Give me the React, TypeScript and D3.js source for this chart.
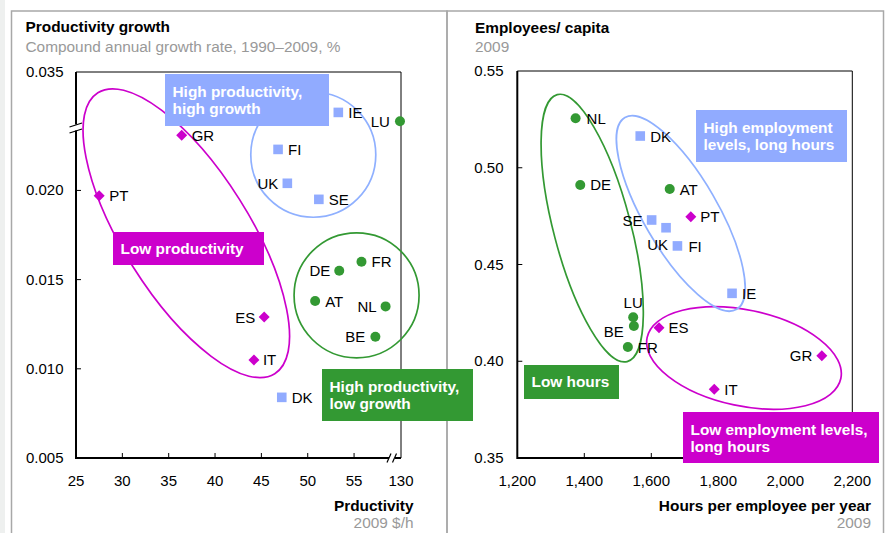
import React from "react";
import * as d3 from "d3";

// ---------- data ----------
type Pt = { c: string; x: number; y: number; g: "low" | "hi" | "mid" };

// Left chart: productivity (2009 $/h) vs productivity growth
const leftPoints: Pt[] = [
  { c: "GR", x: 36.4, y: 0.0231, g: "low" },
  { c: "PT", x: 27.5, y: 0.0197, g: "low" },
  { c: "ES", x: 45.3, y: 0.0129, g: "low" },
  { c: "IT", x: 44.2, y: 0.0105, g: "low" },
  { c: "IE", x: 53.3, y: 0.0267, g: "hi" },
  { c: "FI", x: 46.8, y: 0.0223, g: "hi" },
  { c: "UK", x: 47.8, y: 0.0204, g: "hi" },
  { c: "SE", x: 51.2, y: 0.0195, g: "hi" },
  { c: "DK", x: 47.2, y: 0.0084, g: "hi" },
  { c: "LU", x: 121, y: 0.0249, g: "mid" },
  { c: "FR", x: 55.8, y: 0.016, g: "mid" },
  { c: "DE", x: 53.4, y: 0.0155, g: "mid" },
  { c: "AT", x: 50.8, y: 0.0138, g: "mid" },
  { c: "NL", x: 58.4, y: 0.0135, g: "mid" },
  { c: "BE", x: 57.3, y: 0.0118, g: "mid" },
];

// Right chart: hours per employee vs employees per capita
const rightPoints: Pt[] = [
  { c: "NL", x: 1374, y: 0.5256, g: "mid" },
  { c: "DE", x: 1388, y: 0.4911, g: "mid" },
  { c: "AT", x: 1655, y: 0.489, g: "mid" },
  { c: "LU", x: 1546, y: 0.4227, g: "mid" },
  { c: "BE", x: 1548, y: 0.4182, g: "mid" },
  { c: "FR", x: 1530, y: 0.4074, g: "mid" },
  { c: "DK", x: 1567, y: 0.5164, g: "hi" },
  { c: "SE", x: 1601, y: 0.473, g: "hi" },
  { c: "UK", x: 1644, y: 0.469, g: "hi" },
  { c: "FI", x: 1678, y: 0.4596, g: "hi" },
  { c: "IE", x: 1841, y: 0.4351, g: "hi" },
  { c: "PT", x: 1718, y: 0.4747, g: "low" },
  { c: "ES", x: 1623, y: 0.4173, g: "low" },
  { c: "GR", x: 2109, y: 0.4029, g: "low" },
  { c: "IT", x: 1788, y: 0.3855, g: "low" },
];

const leftXTicks = [25, 30, 35, 40, 45, 50, 55, 130];
const leftYTicks = [0.005, 0.01, 0.015, 0.02, 0.035];
const rightXTicks = [1200, 1400, 1600, 1800, 2000, 2200];
const rightYTicks = [0.35, 0.4, 0.45, 0.5, 0.55];

// ---------- styles ----------
const MAG = "#cc00cc";
const BLUE = "#91abff";
const GREEN = "#339933";
const GRAY = "#999999";
const FONT = "'Liberation Sans', Arial, sans-serif";
const FS = 15;
const FSB = 15.4;
const colorOf = (g: string) => (g === "low" ? MAG : g === "hi" ? BLUE : GREEN);

// label placement per country: [anchor, dx, dy]
const leftLabelPos: Record<string, [string, number, number]> = {
  GR: ["start", 10, 5.5], PT: ["start", 10, 5.5], ES: ["end", -9, 5.5], IT: ["start", 9, 5.5],
  IE: ["start", 10, 5.5], FI: ["start", 10, 5.5], UK: ["end", -9, 5.5], SE: ["start", 10, 5.5],
  DK: ["start", 10, 5.5], LU: ["end", -10, 5.5], FR: ["start", 10, 5.5], DE: ["end", -9, 5.5],
  AT: ["start", 10, 5.5], NL: ["end", -9, 5.5], BE: ["end", -10, 5.5],
};
const rightLabelPos: Record<string, [string, number, number]> = {
  NL: ["start", 11, 5.5], DE: ["start", 10, 5.5], AT: ["start", 10, 5.5], LU: ["middle", 0, -9],
  BE: ["end", -10, 11], FR: ["start", 10, 6.5], DK: ["start", 10, 5.5], SE: ["end", -9, 6.5],
  UK: ["end", 2, 22], FI: ["start", 11, 6], IE: ["start", 10, 5.5], PT: ["start", 9.5, 5.5],
  ES: ["start", 9.5, 5.5], GR: ["end", -9.5, 5.5], IT: ["start", 10, 5.5],
};

function Marker({ g, x, y }: { g: string; x: number; y: number }) {
  const col = colorOf(g);
  if (g === "low") {
    const r = 5.5;
    return <path d={`M${x},${y - r}L${x + r},${y}L${x},${y + r}L${x - r},${y}Z`} fill={col} />;
  }
  if (g === "hi") return <rect x={x - 4.8} y={y - 4.8} width={9.6} height={9.6} fill={col} />;
  return <circle cx={x} cy={y} r={5} fill={col} />;
}

function Box({ x, y, w, h, fill, lines }: { x: number; y: number; w: number; h: number; fill: string; lines: string[] }) {
  return (
    <g>
      <rect x={x} y={y} width={w} height={h} fill={fill} />
      {lines.map((l, i) => (
        <text key={i} x={x + 7.5} y={y + (lines.length === 1 ? 22 : 22.5 + i * 17.5)} fill="#fff" fontWeight="bold" fontSize={FSB}>
          {l}
        </text>
      ))}
    </g>
  );
}

export default function App() {
  // left scales (broken axes)
  const lx = d3.scaleLinear().domain([25, 59.2, 130]).range([76, 393, 401]);
  const ly = d3.scaleLinear().domain([0.005, 0.0235, 0.035]).range([458, 128, 72]);
  // right scales
  const rx = d3.scaleLinear().domain([1200, 2200]).range([517.3, 852.3]);
  const ry = d3.scaleLinear().domain([0.35, 0.55]).range([458, 71]);

  const fmt3 = d3.format(".3f");
  const fmt2 = d3.format(".2f");
  const fmtC = d3.format(",");

  const L = { x0: lx(25), x1: lx(130), y0: ly(0.005), y1: ly(0.035) };
  const R = { x0: rx(1200), x1: rx(2200), y0: ry(0.35), y1: ry(0.55) };

  // ellipse annotations: centre in data units, radii in px, angle in degrees
  const leftEllipses = [
    { cx: 36.9, cy: 0.0176, a: 166, b: 63, ang: 57.8, col: MAG },
    { cx: 50.6, cy: 0.022, a: 62.5, b: 62.5, ang: 0, col: "#8fb0ff" },
    { cx: 55.27, cy: 0.01412, a: 62.5, b: 62.5, ang: 0, col: GREEN },
  ];
  const rightEllipses = [
    { cx: 1876.7, cy: 0.4017, a: 99, b: 48, ang: 12, col: MAG },
    { cx: 1688, cy: 0.4764, a: 111, b: 37, ang: 59.8, col: "#8fb0ff" },
    { cx: 1423.6, cy: 0.4688, a: 138, b: 38.5, ang: 75.3, col: GREEN },
  ];

  return (
    <div style={{ position: "fixed", left: 0, top: 0 }}>
      <svg width={887} height={533} style={{ display: "block", fontFamily: FONT }}>
        <rect x={0} y={0} width={887} height={533} fill="#fff" />
        <rect x={0} y={0} width={5} height={533} fill="#eef0ef" />
        {/* panel frames */}
        <rect x={11.5} y={11} width={435.5} height={540} fill="none" stroke="#a8a8a8" strokeWidth={1.5} />
        <rect x={447} y={11} width={436.5} height={540} fill="none" stroke="#a8a8a8" strokeWidth={1.5} />

        {/* ===== LEFT PANEL ===== */}
        <text x={25.5} y={32} fontSize={FSB} fontWeight="bold">Productivity growth</text>
        <text x={25.5} y={51.5} fontSize={FSB} fill={GRAY}>Compound annual growth rate, 1990–2009, %</text>

        {/* plot frame */}
        <line x1={L.x0} x2={L.x1} y1={L.y1} y2={L.y1} stroke="#000" strokeWidth={1} />
        <line x1={L.x1} x2={L.x1} y1={L.y1} y2={L.y0} stroke="#000" strokeWidth={1} />
        <line x1={L.x0} x2={L.x0} y1={L.y1} y2={L.y0 + 1} stroke="#000" strokeWidth={2} />
        <line x1={L.x0} x2={L.x1} y1={L.y0} y2={L.y0} stroke="#000" strokeWidth={2} />
        {leftYTicks.map((t) => (
          <g key={t}>
            {t !== 0.005 && t !== 0.035 && <line x1={L.x0} x2={L.x0 + 5} y1={ly(t)} y2={ly(t)} stroke="#000" />}
            <text x={63.5} y={ly(t) + 5} fontSize={FS} textAnchor="end">{fmt3(t)}</text>
          </g>
        ))}
        {leftXTicks.map((t) => (
          <g key={t}>
            {t !== 25 && t !== 130 && <line x1={lx(t)} x2={lx(t)} y1={L.y0} y2={L.y0 - 5} stroke="#000" />}
            <text x={lx(t)} y={486} fontSize={FS} textAnchor="middle">{t}</text>
          </g>
        ))}
        {/* axis breaks */}
        <rect x={L.x0 - 2} y={ly(0.0235) - 3.5} width={4} height={6} fill="#fff" />
        <line x1={69.5} x2={82} y1={ly(0.0235) - 1} y2={ly(0.0235) - 5} stroke="#000" strokeWidth={1.2} />
        <line x1={69.5} x2={82} y1={ly(0.0235) + 5} y2={ly(0.0235) + 1} stroke="#000" strokeWidth={1.2} />
        <rect x={lx(59.2) - 4} y={L.y0 - 2} width={6} height={4} fill="#fff" />
        <line x1={lx(59.2) - 6} x2={lx(59.2) - 2} y1={L.y0 + 4.5} y2={L.y0 - 4.5} stroke="#000" strokeWidth={1.2} />
        <line x1={lx(59.2) - 0.5} x2={lx(59.2) + 3.5} y1={L.y0 + 4.5} y2={L.y0 - 4.5} stroke="#000" strokeWidth={1.2} />

        <text x={413.5} y={511} fontSize={FSB} fontWeight="bold" textAnchor="end">Prductivity</text>
        <text x={413.5} y={527.5} fontSize={FSB} fill={GRAY} textAnchor="end">2009 $/h</text>

        {leftEllipses.map((e, i) => (
          <ellipse key={i} cx={0} cy={0} rx={e.a} ry={e.b} fill="none" stroke={e.col} strokeWidth={1.7}
            transform={`translate(${lx(e.cx)},${ly(e.cy)}) rotate(${e.ang})`} />
        ))}
        {leftPoints.map((p) => {
          const [anc, dx, dy] = leftLabelPos[p.c];
          return (
            <g key={p.c}>
              <Marker g={p.g} x={lx(p.x)} y={ly(p.y)} />
              <text x={lx(p.x) + dx} y={ly(p.y) + dy} fontSize={FS} textAnchor={anc as any}>{p.c}</text>
            </g>
          );
        })}
        <Box x={165} y={74} w={164} h={52} fill={BLUE} lines={["High productivity,", "high growth"]} />
        <Box x={113} y={232} w={151} h={33} fill={MAG} lines={["Low productivity"]} />

        {/* ===== RIGHT PANEL ===== */}
        <text x={475} y={33} fontSize={FSB} fontWeight="bold">Employees/ capita</text>
        <text x={475} y={51.5} fontSize={FSB} fill={GRAY}>2009</text>

        <line x1={R.x0} x2={R.x1} y1={R.y1} y2={R.y1} stroke="#000" strokeWidth={1} />
        <line x1={R.x1} x2={R.x1} y1={R.y1} y2={R.y0} stroke="#000" strokeWidth={1} />
        <line x1={R.x0} x2={R.x0} y1={R.y1} y2={R.y0 + 1} stroke="#000" strokeWidth={2} />
        <line x1={R.x0} x2={R.x1} y1={R.y0} y2={R.y0} stroke="#000" strokeWidth={2} />
        {rightYTicks.map((t) => (
          <g key={t}>
            {t !== 0.35 && t !== 0.55 && <line x1={R.x0} x2={R.x0 + 5} y1={ry(t)} y2={ry(t)} stroke="#000" />}
            <text x={503.5} y={ry(t) + 5} fontSize={FS} textAnchor="end">{fmt2(t)}</text>
          </g>
        ))}
        {rightXTicks.map((t) => (
          <g key={t}>
            {t !== 1200 && t !== 2200 && <line x1={rx(t)} x2={rx(t)} y1={R.y0} y2={R.y0 - 5} stroke="#000" />}
            <text x={rx(t)} y={485.5} fontSize={FS} textAnchor="middle">{fmtC(t)}</text>
          </g>
        ))}
        <text x={871} y={511} fontSize={FSB} fontWeight="bold" textAnchor="end">Hours per employee per year</text>
        <text x={871} y={527.5} fontSize={FSB} fill={GRAY} textAnchor="end">2009</text>

        {rightEllipses.map((e, i) => (
          <ellipse key={i} cx={0} cy={0} rx={e.a} ry={e.b} fill="none" stroke={e.col} strokeWidth={1.7}
            transform={`translate(${rx(e.cx)},${ry(e.cy)}) rotate(${e.ang})`} />
        ))}
        {rightPoints.map((p) => {
          const [anc, dx, dy] = rightLabelPos[p.c];
          return (
            <g key={p.c}>
              <Marker g={p.g} x={rx(p.x)} y={ry(p.y)} />
              <text x={rx(p.x) + dx} y={ry(p.y) + dy} fontSize={FS} textAnchor={anc as any}>{p.c}</text>
            </g>
          );
        })}
        <Box x={696} y={110} w={151} h={52} fill={BLUE} lines={["High employment", "levels, long hours"]} />
        <Box x={524} y={365} w={95} h={34} fill={GREEN} lines={["Low hours"]} />
        <Box x={683} y={412} w={196} h={51} fill={MAG} lines={["Low employment levels,", "long hours"]} />

        {/* left green box drawn last (overlaps panel divider) */}
        <Box x={322} y={369} w={151} h={52} fill={GREEN} lines={["High productivity,", "low growth"]} />
      </svg>
    </div>
  );
}
